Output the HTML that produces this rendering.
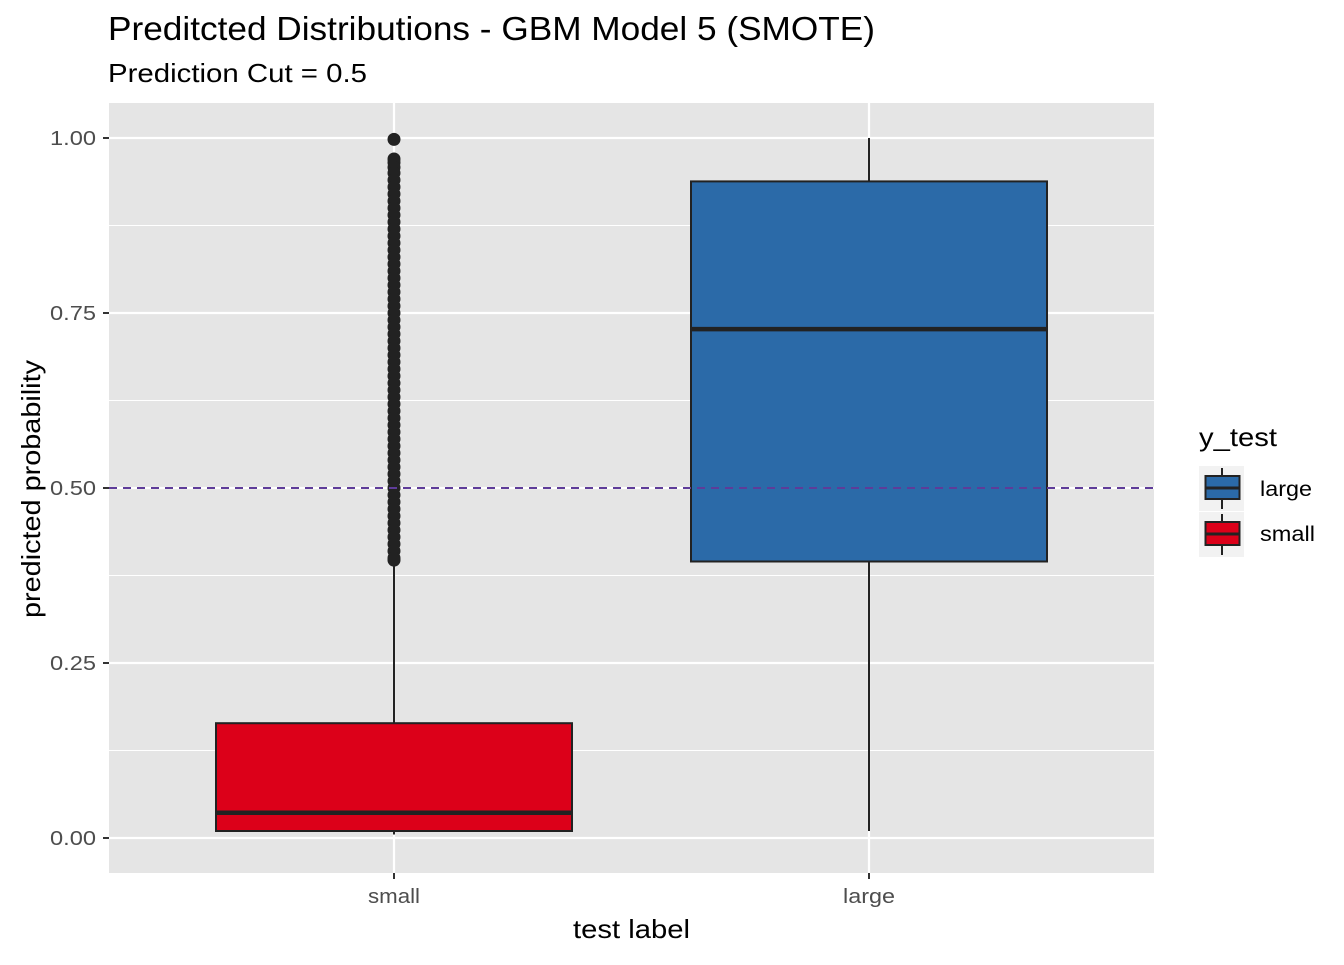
<!DOCTYPE html>
<html><head><meta charset="utf-8"><style>
body{margin:0;background:#fff;font-family:"Liberation Sans",Arial,sans-serif}
</style></head><body>
<svg id="chart" width="1344" height="960" xmlns="http://www.w3.org/2000/svg" font-family="Liberation Sans, Arial, sans-serif">
<text x="108" y="40" font-size="33" textLength="767" lengthAdjust="spacingAndGlyphs" fill="#000">Preditcted Distributions - GBM Model 5 (SMOTE)</text>
<text x="108" y="82" font-size="26" textLength="259" lengthAdjust="spacingAndGlyphs" fill="#000">Prediction Cut = 0.5</text>
<rect x="109" y="103" width="1045" height="770" fill="#e5e5e5"/>
<g id="grid"></g>
<g id="marks"></g>
<g id="axes"></g>
<text x="573" y="938" font-size="26" textLength="117" lengthAdjust="spacingAndGlyphs">test label</text>
<text transform="translate(40,618) rotate(-90)" font-size="26" textLength="258" lengthAdjust="spacingAndGlyphs">predicted probability</text>
<g>
<text x="1199" y="446" font-size="26" textLength="78" lengthAdjust="spacingAndGlyphs">y_test</text>
<g>
<rect x="1199" y="466" width="45" height="45" fill="#f2f2f2"/>
<line x1="1222" y1="468" x2="1222" y2="509" stroke="#222" stroke-width="2"/>
<rect x="1205.5" y="476" width="34" height="23" fill="#2b6aa8" stroke="#222" stroke-width="2"/>
<line x1="1205" y1="488" x2="1240" y2="488" stroke="#222" stroke-width="3"/>
<text x="1260" y="496" font-size="21" textLength="52" lengthAdjust="spacingAndGlyphs">large</text>
</g>
<g>
<rect x="1199" y="512" width="45" height="45" fill="#f2f2f2"/>
<line x1="1222" y1="514" x2="1222" y2="555" stroke="#222" stroke-width="2"/>
<rect x="1205.5" y="522" width="34" height="23" fill="#dc0019" stroke="#222" stroke-width="2"/>
<line x1="1205" y1="534" x2="1240" y2="534" stroke="#222" stroke-width="3"/>
<text x="1260" y="541" font-size="21" textLength="55" lengthAdjust="spacingAndGlyphs">small</text>
</g>
</g>
</svg>
<script>
const categories = ["small","large"];
const fills = ["#dc0019","#2b6aa8"];
const whiskerLow = [0.005, 0.01];
const q1 = [0.01, 0.395];
const median = [0.036, 0.727];
const q3 = [0.164, 0.938];
const whiskerHigh = [0.395, 1.0];
const outliersSmall = [0.998,0.970,0.965,0.958,0.950,0.940,0.930,0.920,0.910,0.900,0.890,0.880,0.870,0.860,0.850,0.840,0.830,0.820,0.810,0.800,0.790,0.780,0.770,0.760,0.750,0.740,0.730,0.720,0.710,0.700,0.690,0.680,0.670,0.660,0.650,0.640,0.630,0.620,0.610,0.600,0.590,0.580,0.570,0.560,0.550,0.540,0.530,0.520,0.510,0.500,0.490,0.480,0.470,0.460,0.450,0.440,0.430,0.420,0.410,0.400,0.397];
const yTicks = [0,0.25,0.5,0.75,1.0];
const yTickLabels = ["0.00","0.25","0.50","0.75","1.00"];
const cutoff = 0.5;
const NS="http://www.w3.org/2000/svg";
const y = v => 838 - v*700;
const x = i => 394 + i*475;
const halfW = 178;
function mk(tag, attrs, parent){const e=document.createElementNS(NS,tag);for(const k in attrs)e.setAttribute(k,attrs[k]);parent.appendChild(e);return e;}
const grid=document.getElementById('grid'), marks=document.getElementById('marks'), axes=document.getElementById('axes');
for(let i=0;i<yTicks.length-1;i++){
  const m=(yTicks[i]+yTicks[i+1])/2;
  const l=mk('line',{x1:109,x2:1154,y1:y(m),y2:y(m),stroke:'#fff','stroke-width':1},grid);
  
  
}
yTicks.forEach((t,i)=>{
  const l=mk('line',{x1:109,x2:1154,y1:y(t),y2:y(t),stroke:'#fff','stroke-width':2.2},grid);
  
  
  mk('line',{x1:103,x2:109,y1:y(t),y2:y(t),stroke:'#333','stroke-width':2},axes);
  const tx=mk('text',{x:50,y:y(t)+7,'font-size':20,fill:'#4d4d4d',textLength:46,lengthAdjust:'spacingAndGlyphs'},axes);
  tx.textContent=yTickLabels[i];
  
  
});
categories.forEach((c,i)=>{
  const l=mk('line',{x1:x(i),x2:x(i),y1:103,y2:873,stroke:'#fff','stroke-width':2.2},grid);
  
  
  mk('line',{x1:x(i),x2:x(i),y1:873,y2:879,stroke:'#333','stroke-width':2},axes);
  const tx=mk('text',{x:x(i),y:903,'font-size':20,fill:'#4d4d4d','text-anchor':'middle',textLength:c.length*10.4,lengthAdjust:'spacingAndGlyphs'},axes);
  tx.textContent=c;
  
  
  const g=mk('g',{},marks);
  
  
  mk('line',{x1:x(i),x2:x(i),y1:y(whiskerLow[i]),y2:y(q1[i]),stroke:'#222','stroke-width':2},g);
  mk('line',{x1:x(i),x2:x(i),y1:y(q3[i]),y2:y(whiskerHigh[i]),stroke:'#222','stroke-width':2},g);
  mk('rect',{x:x(i)-halfW,y:y(q3[i]),width:2*halfW,height:y(q1[i])-y(q3[i]),fill:fills[i],stroke:'#222','stroke-width':2},g);
  mk('line',{x1:x(i)-halfW,x2:x(i)+halfW,y1:y(median[i]),y2:y(median[i]),stroke:'#222','stroke-width':4.5},g);
});
const og=mk('g',{},marks);


outliersSmall.forEach(v=>{
  const p=mk('circle',{cx:x(0),cy:y(v),r:6.5,fill:'#222'},og);
  
  
});
const cl=mk('line',{x1:109,x2:1154,y1:y(cutoff),y2:y(cutoff),stroke:'#5e3c99','stroke-width':2,'stroke-dasharray':'8,6'},marks);


</script>
</body></html>
